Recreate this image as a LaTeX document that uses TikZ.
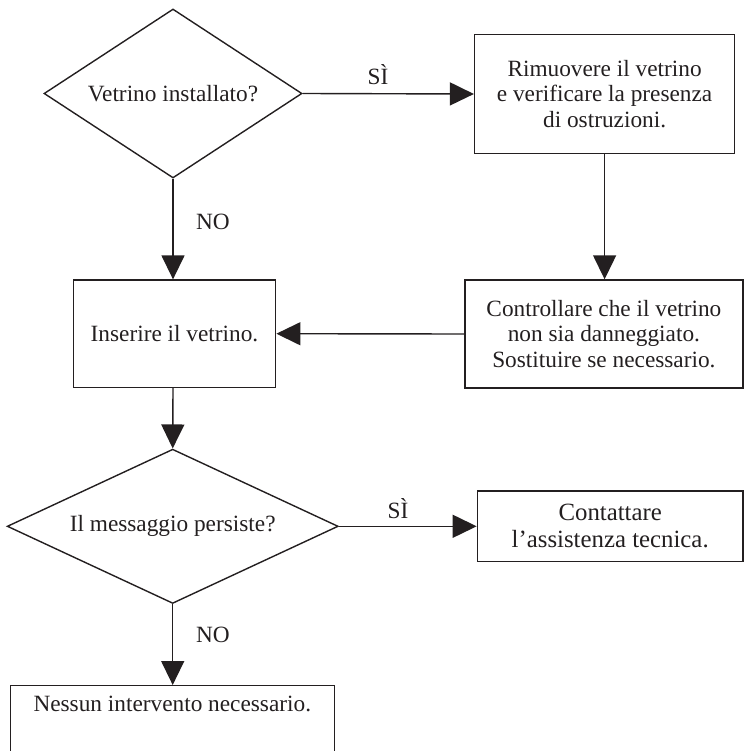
\documentclass[tikz,border=0pt]{standalone}
\usepackage{fontspec}
\setmainfont{Liberation Serif}
\usetikzlibrary{shapes.geometric,arrows.meta}
\definecolor{ink}{RGB}{35,31,32}
\newcommand{\fmain}{\fontsize{23.3}{25.5}\selectfont}
\newcommand{\fbig}{\fontsize{24.8}{27}\selectfont}
\tikzset{
  flowbox/.style={draw=ink, line width=1.4pt, inner sep=0pt, align=center, text=ink, font=\fmain},
  dia/.style={diamond, draw=ink, line width=1.4pt, inner sep=0pt, align=center, text=ink, font=\fmain},
  conn/.style={draw=ink, line width=1.4pt, -{Triangle[length=24pt,width=23pt]}},
  lbl/.style={text=ink, font=\fmain, inner sep=0pt}
}
\begin{document}
\begin{tikzpicture}[x=1pt,y=-1pt]
\useasboundingbox (0,0) rectangle (744,751);
\clip (0,0) rectangle (744,751);
% nodes
\node[dia, aspect=1.53, minimum width=258pt, minimum height=169pt] (d1) at (173,93.5) {Vetrino installato?};
\node[flowbox, minimum width=260pt, minimum height=118.6pt] (b2) at (604.6,94) {Rimuovere il vetrino\\e verificare la presenza\\di ostruzioni.};
\node[flowbox, minimum width=278pt, minimum height=108pt] (b3) at (603.9,334) {Controllare che il vetrino\\non sia danneggiato.\\Sostituire se necessario.};
\node[flowbox, minimum width=202.4pt, minimum height=107.3pt] (b1) at (174.5,333.7) {Inserire il vetrino.};
\node[dia, aspect=2.15, minimum width=331pt, minimum height=154.3pt] (d2) at (172.7,526.3) {Il messaggio persiste?};
\node[flowbox, font=\fbig, minimum width=265.7pt, minimum height=70.7pt] (b4) at (610.2,526.3) {Contattare\\l'assistenza tecnica.};
\node[flowbox, minimum width=324pt, minimum height=80pt, anchor=north] (b5) at (172.3,685) {};
\node[lbl, anchor=center] (t5) at ([yshift=-18.5pt]b5.north) {Nessun intervento necessario.};
% connectors
\draw[conn] (d1.east) -- (b2.west);
\draw[conn] (b2.south) -- (b2.south |- b3.north);
\draw[conn] (b3.west) -- (b1.east);
\draw[conn] (d1.south) -- (d1.south |- b1.north);
\draw[conn] (d1.south |- b1.south) -- (d2.north);
\draw[conn] (d2.east) -- (b4.west);
\draw[conn] (d2.south) -- (d2.south |- b5.north);
% labels
\node[lbl] (s1) at (378,75) {SÌ};
\node[lbl] (n1) at (213,222) {NO};
\node[lbl] (s2) at (398,509) {SÌ};
\node[lbl] (n2) at (213,635) {NO};
\end{tikzpicture}
\end{document}
